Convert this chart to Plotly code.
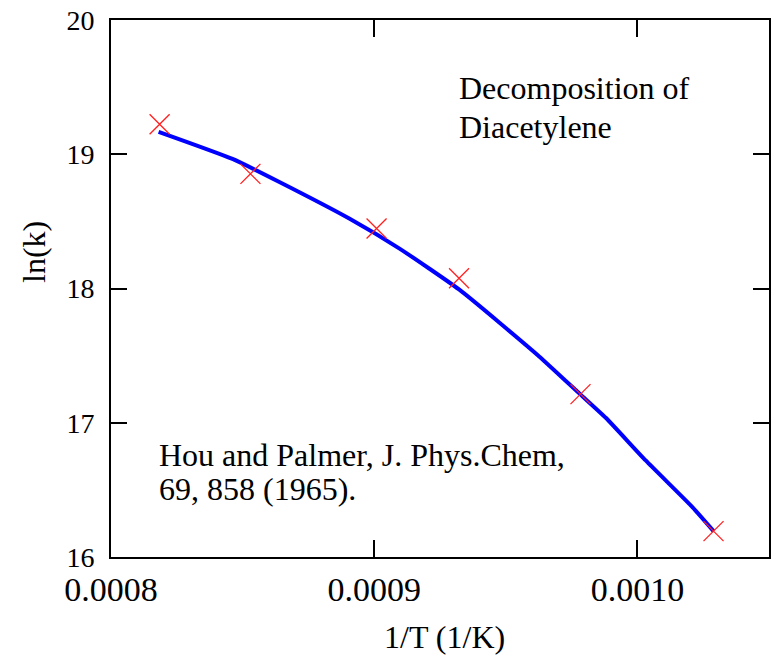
import plotly.graph_objects as go

# Measured data (1/T in 1/K, ln k)
inv_T = [0.00081847, 0.00085298, 0.00090090, 0.00093223, 0.00097838, 0.00102893]
ln_k = [19.224, 18.854, 18.447, 18.076, 17.213, 16.193]

# Fitted curve
fit_x = [0.00081809, 0.00084615, 0.00086397, 0.00089052, 0.00090948, 0.00093223,
         0.00096257, 0.00097812, 0.00098798, 0.00100315, 0.00102097,
         0.00102893]
fit_y = [19.167, 18.965, 18.793, 18.521, 18.299, 17.993,
         17.496, 17.215, 17.037, 16.719, 16.370,
         16.193]

x_ticks = [0.0008, 0.0009, 0.0010]
x_tick_labels = ["0.0008", "0.0009", "0.0010"]
y_ticks = [16, 17, 18, 19, 20]

FONT = "Liberation Serif, Times New Roman, serif"
W, H = 776, 656
L, R, T, B = 111, 5, 17, 99
PW, PH = W - L - R, H - T - B

def px(xp):
    return (xp - L) / PW

def py(yp):
    return 1 - (yp - T) / PH

fig = go.Figure()
fig.add_trace(go.Scatter(x=fit_x, y=fit_y, mode="lines",
                         line=dict(color="#0000ff", width=4, shape="spline", smoothing=0.5),
                         showlegend=False))
fig.add_trace(go.Scatter(x=inv_T, y=ln_k, mode="markers",
                         marker=dict(symbol="x-thin", size=20,
                                     line=dict(color="#ff2020", width=1.3)),
                         showlegend=False))

fig.update_layout(
    width=W, height=H,
    margin=dict(l=L, r=R, t=T, b=B, pad=0),
    paper_bgcolor="white", plot_bgcolor="white",
    font=dict(family=FONT, color="black"),
    xaxis=dict(range=[0.0008, 0.00105], tickvals=x_ticks, ticktext=x_tick_labels,
               ticks="inside", ticklen=17, tickwidth=2, tickcolor="black",
               showline=True, linecolor="black", linewidth=2, mirror="ticks",
               showgrid=False, zeroline=False,
               tickfont=dict(family=FONT, size=34, color="black"),
               ticklabelstandoff=1),
    yaxis=dict(range=[16, 20], tickvals=y_ticks,
               ticks="inside", ticklen=16, tickwidth=2, tickcolor="black",
               showline=True, linecolor="black", linewidth=2, mirror="ticks",
               showgrid=False, zeroline=False,
               tickfont=dict(family=FONT, size=28, color="black"),
               ticklabelstandoff=9),
)

annots = [
    ("Decomposition of", 458, 85, "left", 0),
    ("Diacetylene", 458, 125, "left", 0),
    ("Hou and Palmer, J. Phys.Chem,", 157, 454, "left", 0),
    ("69, 858 (1965).", 157, 489, "left", 0),
    ("1/T (1/K)", 446, 637, "center", 0),
    ("ln(k)", 33, 250, "center", -90),
]
for text, xp, yp, xa, ang in annots:
    fig.add_annotation(text=text, xref="paper", yref="paper",
                       x=px(xp), y=py(yp), xanchor=xa, yanchor="middle",
                       showarrow=False, textangle=ang,
                       font=dict(family=FONT, size=32, color="black"))

fig.write_html("out.html")
